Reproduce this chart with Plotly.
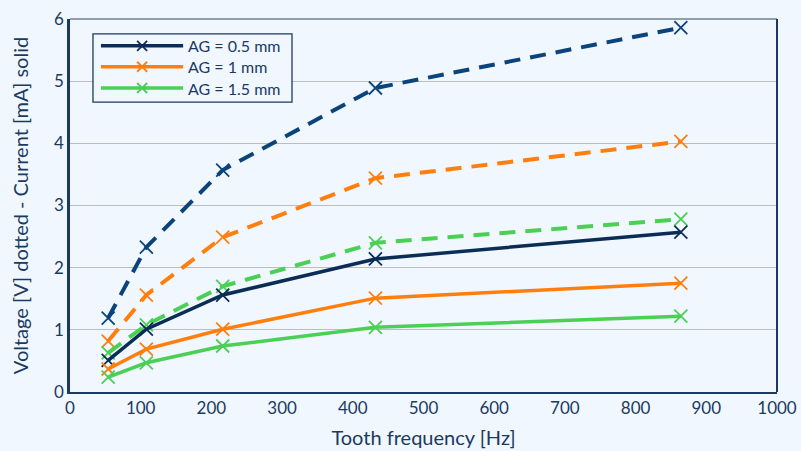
import plotly.graph_objects as go

freq = [54, 108, 216, 432, 864]
volt_05 = [1.19, 2.33, 3.57, 4.89, 5.86]
volt_10 = [0.82, 1.56, 2.49, 3.44, 4.03]
volt_15 = [0.63, 1.08, 1.70, 2.40, 2.78]
curr_05 = [0.51, 1.01, 1.56, 2.14, 2.57]
curr_10 = [0.37, 0.69, 1.01, 1.51, 1.75]
curr_15 = [0.24, 0.47, 0.74, 1.04, 1.22]
labels = ["AG = 0.5 mm", "AG = 1 mm", "AG = 1.5 mm"]

navy = "#0b2d55"
navy_d = "#0a447a"
orange = "#ff7f0e"
green = "#4ccf55"
txt = "#1b3a5f"
colors = [navy, orange, green]

fig = go.Figure()

def mk(c):
    return dict(symbol="x-thin", size=13, line=dict(color=c, width=1.8), color=c)

for y, c in [(volt_05, navy_d), (volt_10, orange), (volt_15, green)]:
    fig.add_trace(go.Scatter(x=freq, y=y, mode="lines+markers", showlegend=False,
                             line=dict(color=c, width=4, dash="16px,10px"), marker=mk(c)))
for y, c, n in [(curr_05, navy, labels[0]), (curr_10, orange, labels[1]), (curr_15, green, labels[2])]:
    fig.add_trace(go.Scatter(x=freq, y=y, mode="lines+markers", name=n, showlegend=False,
                             line=dict(color=c, width=3.5), marker=mk(c)))

# custom legend (longer sample lines as in reference)
shapes = [
    dict(type="line", xref="paper", yref="paper", x0=0, x1=1, y0=1, y1=1,
         line=dict(color="#8f9db0", width=2)),
    dict(type="line", xref="paper", yref="paper", x0=1, x1=1, y0=0, y1=1,
         line=dict(color="#1b3a5f", width=2)),
    dict(type="rect", xref="paper", yref="paper", x0=0.0325, x1=0.314, y0=0.777, y1=0.960,
         line=dict(color=txt, width=1.3), fillcolor="#f0f7ff", layer="above"),
]
annotations = []
rows = [0.928, 0.872, 0.815]
for yy, c, n in zip(rows, colors, labels):
    shapes.append(dict(type="line", xref="paper", yref="paper", x0=0.0438, x1=0.160, y0=yy, y1=yy,
                       line=dict(color=c, width=3.5), layer="above"))
    for a, b in [((-5, -5), (5, 5)), ((-5, 5), (5, -5))]:
        shapes.append(dict(type="line", xref="paper", yref="paper",
                           xsizemode="pixel", ysizemode="pixel", xanchor=0.102, yanchor=yy,
                           x0=a[0], y0=a[1], x1=b[0], y1=b[1],
                           line=dict(color=c, width=1.8), layer="above"))
    annotations.append(dict(xref="paper", yref="paper", x=0.164, y=yy, text=n, showarrow=False,
                            xanchor="left", yanchor="middle", font=dict(size=16, color=txt)))

fig.update_layout(
    width=801, height=451,
    margin=dict(l=70, r=24, t=19, b=59, pad=0),
    paper_bgcolor="#f0f7ff", plot_bgcolor="#f0f7ff",
    font=dict(family="Lato", color=txt, size=17),
    showlegend=False,
    xaxis=dict(range=[0, 1000], dtick=100, showgrid=False, zeroline=False, automargin=False,
               showline=True, linecolor="#1b3a5f", linewidth=2, mirror=False,
               ticks="", title=dict(text="Tooth frequency [Hz]", standoff=14)),
    yaxis=dict(range=[0, 6], dtick=1, showgrid=True, gridcolor="#bdbdbd", gridwidth=1,
               zeroline=False, showline=True, linecolor="#1b3a5f", linewidth=2.5, automargin=False,
               ticks="", title=dict(text="Voltage [V] dotted - Current [mA] solid", standoff=20)),
    shapes=shapes,
    annotations=annotations,
)

fig.write_html("out.html")
